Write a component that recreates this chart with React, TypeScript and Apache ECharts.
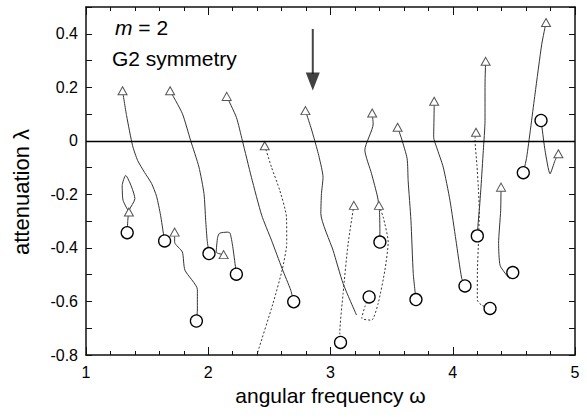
import { useEffect, useRef } from "react";
import * as echarts from "echarts";

type Pt = [number, number];

// Branch trajectories (ω, λ); first point is the start of the branch, last point its end.
const branch1: Pt[] = [[1.299, 0.187], [1.332, 0.094], [1.381, -0.018], [1.422, -0.073], [1.479, -0.118], [1.536, -0.159], [1.577, -0.207], [1.61, -0.278], [1.635, -0.352], [1.643, -0.374]];
const branch2: Pt[] = [[1.688, 0.187], [1.788, 0.102], [1.856, 0.001], [1.924, -0.098], [1.965, -0.197], [1.979, -0.297], [1.991, -0.371], [2.006, -0.421]];
const branch3: Pt[] = [[2.151, 0.166], [2.23, 0.088], [2.279, 0.001], [2.353, -0.136], [2.437, -0.278], [2.517, -0.371], [2.604, -0.477], [2.675, -0.558], [2.699, -0.601]];
const branch4: Pt[] = [[2.462, -0.018], [2.517, -0.098], [2.585, -0.185], [2.64, -0.285], [2.642, -0.383], [2.604, -0.483], [2.53, -0.607], [2.402, -0.794], [2.385, -0.83]];
const branch5: Pt[] = [[1.351, -0.266], [1.303, -0.222], [1.296, -0.167], [1.324, -0.129], [1.4, -0.216], [1.352, -0.26], [1.342, -0.297], [1.337, -0.343]];
const branch6: Pt[] = [[1.725, -0.341], [1.725, -0.379], [1.788, -0.415], [1.809, -0.483], [1.911, -0.555], [1.911, -0.632], [1.903, -0.673]];
const branch7: Pt[] = [[2.126, -0.425], [2.065, -0.416], [2.077, -0.36], [2.093, -0.345], [2.159, -0.341], [2.179, -0.345], [2.2, -0.394], [2.224, -0.476], [2.23, -0.498]];
const branch8: Pt[] = [[2.795, 0.113], [2.839, 0.051], [2.871, 0.001], [2.907, -0.061], [2.939, -0.136], [2.926, -0.197], [2.921, -0.272], [3.021, -0.409], [3.103, -0.533], [3.213, -0.651]];
const branch9: Pt[] = [[3.341, 0.104], [3.349, 0.063], [3.281, -0.034], [3.336, -0.123], [3.385, -0.21], [3.4, -0.26], [3.404, -0.334], [3.404, -0.378]];
const branch10: Pt[] = [[3.396, -0.241], [3.431, -0.285], [3.472, -0.378], [3.445, -0.483], [3.39, -0.607], [3.336, -0.67], [3.256, -0.663], [3.281, -0.62], [3.316, -0.583]];
const branch11: Pt[] = [[3.191, -0.241], [3.144, -0.384], [3.103, -0.57], [3.076, -0.719], [3.082, -0.753]];
const branch12: Pt[] = [[3.549, 0.051], [3.582, 0.007], [3.627, -0.067], [3.635, -0.148], [3.658, -0.297], [3.677, -0.496], [3.699, -0.593]];
const branch13: Pt[] = [[3.848, 0.148], [3.848, 0.125], [3.844, 0.013], [3.868, -0.024], [3.922, -0.098], [3.977, -0.222], [4.026, -0.371], [4.073, -0.513], [4.1, -0.542]];
const branch14: Pt[] = [[4.269, 0.297], [4.264, 0.212], [4.264, 0.076], [4.25, -0.036], [4.231, -0.173], [4.217, -0.26], [4.206, -0.316], [4.201, -0.355]];
const branch15: Pt[] = [[4.19, 0.032], [4.182, 0.007], [4.198, -0.092], [4.209, -0.173], [4.217, -0.26], [4.211, -0.371], [4.202, -0.483], [4.201, -0.595], [4.237, -0.614], [4.305, -0.626]];
const branch16: Pt[] = [[4.395, -0.173], [4.392, -0.26], [4.375, -0.384], [4.387, -0.465], [4.441, -0.502], [4.468, -0.514], [4.491, -0.492]];
const branch17: Pt[] = [[4.763, 0.442], [4.728, 0.361], [4.673, 0.175], [4.605, -0.061], [4.577, -0.119]];
const branch18: Pt[] = [[4.864, -0.048], [4.837, -0.073], [4.796, -0.123], [4.755, -0.036], [4.728, 0.057], [4.722, 0.076]];

// Downward arrow marking the frequency of interest
const arrowShaft: Pt[] = [[2.855, 0.418], [2.855, 0.25]];
const arrowHead: Pt[] = [[2.855, 0.222]];

type Mark = "triangle" | "circle" | null;
interface Branch {
  pts: Pt[];
  dotted: boolean;
  start: Mark;
  end: Mark;
}

const branches: Branch[] = [
  { pts: branch1, dotted: false, start: "triangle", end: "circle" },
  { pts: branch2, dotted: false, start: "triangle", end: "circle" },
  { pts: branch3, dotted: false, start: "triangle", end: "circle" },
  { pts: branch4, dotted: true, start: "triangle", end: null },
  { pts: branch5, dotted: false, start: "triangle", end: "circle" },
  { pts: branch6, dotted: false, start: "triangle", end: "circle" },
  { pts: branch7, dotted: false, start: "triangle", end: "circle" },
  { pts: branch8, dotted: false, start: "triangle", end: null },
  { pts: branch9, dotted: false, start: "triangle", end: "circle" },
  { pts: branch10, dotted: true, start: "triangle", end: "circle" },
  { pts: branch11, dotted: true, start: "triangle", end: "circle" },
  { pts: branch12, dotted: false, start: "triangle", end: "circle" },
  { pts: branch13, dotted: false, start: "triangle", end: "circle" },
  { pts: branch14, dotted: false, start: "triangle", end: "circle" },
  { pts: branch15, dotted: true, start: "triangle", end: "circle" },
  { pts: branch16, dotted: false, start: "triangle", end: "circle" },
  { pts: branch17, dotted: false, start: "triangle", end: "circle" },
  { pts: branch18, dotted: false, start: "triangle", end: "circle" },
];

const FONT = "'Liberation Sans', Arial, Helvetica, sans-serif";

const triangleStyle = { color: "#fff", borderColor: "#555", borderWidth: 1 };
const circleStyle = { color: "#fff", borderColor: "#000", borderWidth: 1.3 };

function pointItem(p: Pt, mark: Mark) {
  if (!mark) return { value: p, symbol: "none" };
  return {
    value: p,
    symbol: mark,
    symbolSize: mark === "triangle" ? [9, 8] : 12,
    itemStyle: mark === "triangle" ? triangleStyle : circleStyle,
  };
}

function branchSeries(b: Branch) {
  const n = b.pts.length;
  return {
    type: "line",
    xAxisIndex: 0,
    yAxisIndex: 0,
    silent: true,
    smooth: 0.2,
    showSymbol: true,
    showAllSymbol: true,
    z: 3,
    emphasis: { disabled: true },
    lineStyle: { color: "#333", width: 1, type: b.dotted ? [2, 2] : "solid" },
    data: b.pts.map((p, i) => pointItem(p, i === 0 ? b.start : i === n - 1 ? b.end : null)),
  };
}

const yLabel = (v: number) => {
  const k = Math.round(v * 10);
  if (k % 2 !== 0 || k > 4) return "";
  return k === 0 ? "0" : (k / 10).toFixed(1);
};

export default function App() {
  const ref = useRef<HTMLDivElement>(null);

  useEffect(() => {
    if (!ref.current) return;
    const chart = echarts.init(ref.current, undefined, { renderer: "svg" });

    const axisLine = { show: true, onZero: false, lineStyle: { color: "#111", width: 1.5 } };

    chart.setOption({
      animation: false,
      backgroundColor: "#fff",
      textStyle: { fontFamily: FONT },
      grid: { left: 86, right: 12, top: 7, bottom: 63, containLabel: false },
      xAxis: [
        {
          type: "value",
          min: 1,
          max: 5,
          interval: 1,
          position: "bottom",
          axisLine,
          axisTick: { show: true, inside: true, length: 8, lineStyle: { color: "#111", width: 1 } },
          minorTick: { show: true, splitNumber: 5, length: 4, lineStyle: { color: "#111", width: 1 } },
          splitLine: { show: false },
          axisLabel: { color: "#000", fontSize: 16, margin: 9, fontFamily: FONT },
          name: "angular frequency ω",
          nameLocation: "middle",
          nameGap: 29,
          nameTextStyle: { color: "#000", fontSize: 21, fontFamily: FONT },
        },
        {
          type: "value",
          min: 1,
          max: 5,
          interval: 1,
          position: "top",
          axisLine,
          axisTick: { show: true, inside: true, length: 8, lineStyle: { color: "#111", width: 1 } },
          minorTick: { show: true, splitNumber: 5, length: 4, lineStyle: { color: "#111", width: 1 } },
          splitLine: { show: false },
          axisLabel: { show: false },
        },
      ],
      yAxis: [
        {
          type: "value",
          min: -0.8,
          max: 0.5,
          interval: 0.1,
          position: "left",
          axisLine,
          axisTick: { show: true, inside: true, length: 6, lineStyle: { color: "#111", width: 1 } },
          splitLine: { show: false },
          axisLabel: { color: "#000", fontSize: 16, margin: 8, fontFamily: FONT, formatter: yLabel },
          name: "attenuation λ",
          nameLocation: "middle",
          nameGap: 54,
          nameTextStyle: { color: "#000", fontSize: 22, fontFamily: FONT, padding: [0, 22, 0, 0] },
        },
        {
          type: "value",
          min: -0.8,
          max: 0.5,
          interval: 0.1,
          position: "right",
          axisLine,
          axisTick: { show: true, inside: true, length: 6, lineStyle: { color: "#111", width: 1 } },
          splitLine: { show: false },
          axisLabel: { show: false },
        },
      ],
      graphic: [
        {
          type: "text",
          left: 115,
          top: 17,
          style: {
            text: "{i|m} = 2",
            fill: "#000",
            font: `21px ${FONT}`,
            rich: { i: { fontStyle: "italic", fontSize: 21, fontFamily: FONT, fill: "#000" } },
          },
        },
        {
          type: "text",
          left: 112,
          top: 48,
          style: { text: "G2 symmetry", fill: "#000", font: `21px ${FONT}` },
        },
      ],
      series: [
        {
          type: "line",
          silent: true,
          symbol: "none",
          z: 2,
          lineStyle: { color: "#444", width: 2 },
          data: arrowShaft,
          markLine: {
            silent: true,
            symbol: "none",
            label: { show: false },
            lineStyle: { color: "#000", width: 1.3, type: "solid" },
            emphasis: { disabled: true },
            data: [{ yAxis: 0 }],
          },
        },
        {
          type: "scatter",
          silent: true,
          symbol: "triangle",
          symbolRotate: 180,
          symbolSize: [14, 18],
          itemStyle: { color: "#111" },
          z: 2,
          data: arrowHead,
        },
        ...branches.map(branchSeries),
      ],
    });

    return () => chart.dispose();
  }, []);

  return (
    <div
      ref={ref}
      style={{ position: "fixed", left: 0, top: 0, width: 587, height: 418, background: "#fff" }}
    />
  );
}
